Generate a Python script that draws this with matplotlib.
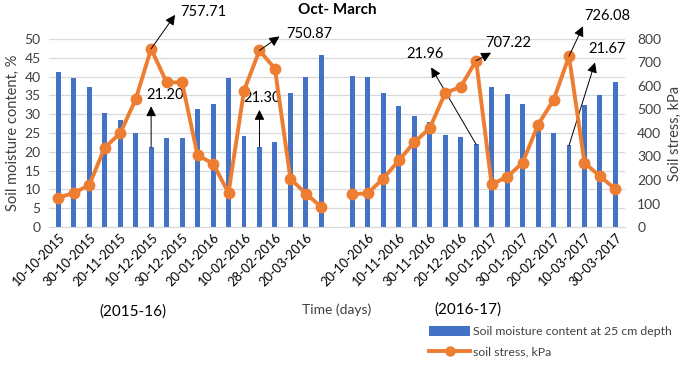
#!/usr/bin/env python3
import matplotlib
matplotlib.use('Agg')
import matplotlib.pyplot as plt
import matplotlib.transforms as mtransforms
from matplotlib.patches import Patch
from matplotlib.lines import Line2D
import numpy as np

plt.rcParams['font.family'] = ['Lato', 'DejaVu Sans']

# season 2015-16
dates_1516 = ['10-10-2015', '', '30-10-2015', '', '20-11-2015', '', '10-12-2015', '',
              '30-12-2015', '', '20-01-2016', '', '10-02-2016', '', '28-02-2016', '',
              '20-03-2016', '']
moisture_1516 = [41.3, 39.7, 37.3, 30.2, 28.4, 25.0, 21.2, 23.6, 23.6,
                 31.3, 32.7, 39.6, 24.3, 21.3, 22.6, 35.6, 39.9, 45.6]
stress_1516 = [125, 145, 178, 338, 398, 543, 757.71, 615, 615,
               305, 270, 145, 580, 750.87, 673, 205, 142, 85]

# season 2016-17
dates_1617 = ['', '20-10-2016', '', '10-11-2016', '', '30-11-2016', '', '20-12-2016',
              '', '10-01-2017', '', '30-01-2017', '', '20-02-2017', '', '10-03-2017',
              '', '30-03-2017']
moisture_1617 = [40.1, 39.8, 35.6, 32.1, 29.5, 27.9, 24.4, 23.9, 21.96,
                 37.2, 35.3, 32.6, 28.0, 25.0, 21.67, 32.5, 35.1, 38.5]
stress_1617 = [139, 144, 206, 283, 360, 420, 570, 596, 707.22,
               181, 213, 273, 435, 540, 726.08, 273, 216, 161]

BLUE = '#4472C4'
ORANGE = '#ED7D31'
GRID = '#D9D9D9'
TXT = '#404040'

n1 = len(moisture_1516)
x1 = np.arange(n1)
x2 = np.arange(n1 + 1, n1 + 1 + len(moisture_1617))
labels = dates_1516 + [''] + dates_1617

fig = plt.figure(figsize=(6.85, 3.74), dpi=100)
ax = fig.add_axes([0.0715, 0.393, 0.8405, 0.503])
ax2 = ax.twinx()

ax.bar(x1, moisture_1516, width=0.32, color=BLUE, zorder=2)
ax.bar(x2, moisture_1617, width=0.32, color=BLUE, zorder=2)

line_kw = dict(color=ORANGE, lw=2.8, marker='o', ms=7.5, zorder=3)
ax2.plot(x1, stress_1516, **line_kw)
ax2.plot(x2, stress_1617, **line_kw)

ax.set_xlim(-0.6, x2[-1] + 0.6)
ax.set_ylim(0, 50)
ax2.set_ylim(0, 800)
ax.set_yticks(np.arange(0, 51, 5))
ax2.set_yticks(np.arange(0, 801, 100))
ax.set_xticks(np.arange(len(labels)))
ax.set_xticklabels(labels, rotation=45, ha='right', rotation_mode='anchor')
ax.grid(axis='y', color=GRID, lw=0.9, zorder=0)
ax.set_axisbelow(True)

for a in (ax, ax2):
    for s in a.spines.values():
        s.set_visible(False)
    a.tick_params(length=0, labelsize=10, labelcolor=TXT)
ax.spines['bottom'].set_visible(True)
ax.spines['bottom'].set_color(GRID)
ax.tick_params(axis='x', pad=3, labelcolor='black', labelsize=9.2)
ax.tick_params(axis='y', pad=6)
ax2.tick_params(axis='y', pad=9)

ax.set_ylabel('Soil moisture content, %', fontsize=10.5, color=TXT, labelpad=3)
ax2.set_ylabel('Soil stress, kPa', fontsize=10.5, color=TXT, labelpad=5)

fig.text(0.492, 0.972, 'Oct- March', ha='center', va='center',
         fontsize=11, fontweight='bold')
fig.text(0.194, 0.168, '(2015-16)', ha='center', va='center', fontsize=11, color='black')
fig.text(0.492, 0.173, 'Time (days)', ha='center', va='center', fontsize=10, color=TXT)
fig.text(0.683, 0.173, '(2016-17)', ha='center', va='center', fontsize=11, color='black')


def arrow_label(a, x, y, text, tip, txt, ha='left', va='center'):
    # tip / txt are offsets in points from the data point
    tr = mtransforms.offset_copy(a.transData, fig=fig, x=tip[0], y=tip[1], units='points')
    a.annotate('', xy=(x, y), xycoords=tr, xytext=(x, y), textcoords='data',
               arrowprops=dict(arrowstyle='-|>,head_length=0.6,head_width=0.3',
                               color='black', lw=0.7, shrinkA=0, shrinkB=0),
               zorder=5, annotation_clip=False)
    a.annotate(text, xy=(x, y), xytext=txt, textcoords='offset points',
               ha=ha, va=va, fontsize=10.5, color='black', zorder=5,
               annotation_clip=False)


pk = 0.72  # pixels -> points
# stress peaks
i = 6
arrow_label(ax2, x1[i], stress_1516[i], f'{stress_1516[i]:.2f}',
            (24 * pk, 34 * pk), (29 * pk, 37 * pk))
i = 13
arrow_label(ax2, x1[i], stress_1516[i], f'{stress_1516[i]:.2f}',
            (20 * pk, 14 * pk), (27 * pk, 16 * pk))
i = 8
arrow_label(ax2, x2[i], stress_1617[i], f'{stress_1617[i]:.2f}',
            (15 * pk, 8 * pk), (9 * pk, 18 * pk))
i = 14
arrow_label(ax2, x2[i], stress_1617[i], f'{stress_1617[i]:.2f}',
            (14 * pk, 30 * pk), (15 * pk, 40 * pk))
# moisture minima
i = 6
arrow_label(ax, x1[i], moisture_1516[i], f'{moisture_1516[i]:.2f}',
            (0, 41 * pk), (-5 * pk, 52 * pk))
i = 13
arrow_label(ax, x1[i], moisture_1516[i], f'{moisture_1516[i]:.2f}',
            (0, 37 * pk), (-16 * pk, 49 * pk))
i = 8
arrow_label(ax, x2[i], moisture_1617[i], f'{moisture_1617[i]:.2f}',
            (-45 * pk, 77 * pk), (-70 * pk, 90 * pk))
i = 14
arrow_label(ax, x2[i], moisture_1617[i], f'{moisture_1617[i]:.2f}',
            (26 * pk, 83 * pk), (19 * pk, 96 * pk))

handles = [Patch(facecolor=BLUE, edgecolor='none'),
           Line2D([], [], color=ORANGE, lw=2.8, marker='o', ms=6.5)]
fig.legend(handles, ['Soil moisture content at 25 cm depth', 'soil stress, kPa'],
           loc='upper left', bbox_to_anchor=(0.627, 0.128), frameon=False,
           fontsize=8.8, handlelength=3.3, handleheight=0.8, handletextpad=0.25,
           labelspacing=0.8, borderaxespad=0, borderpad=0, labelcolor=TXT)

fig.savefig('out.png', dpi=100)
